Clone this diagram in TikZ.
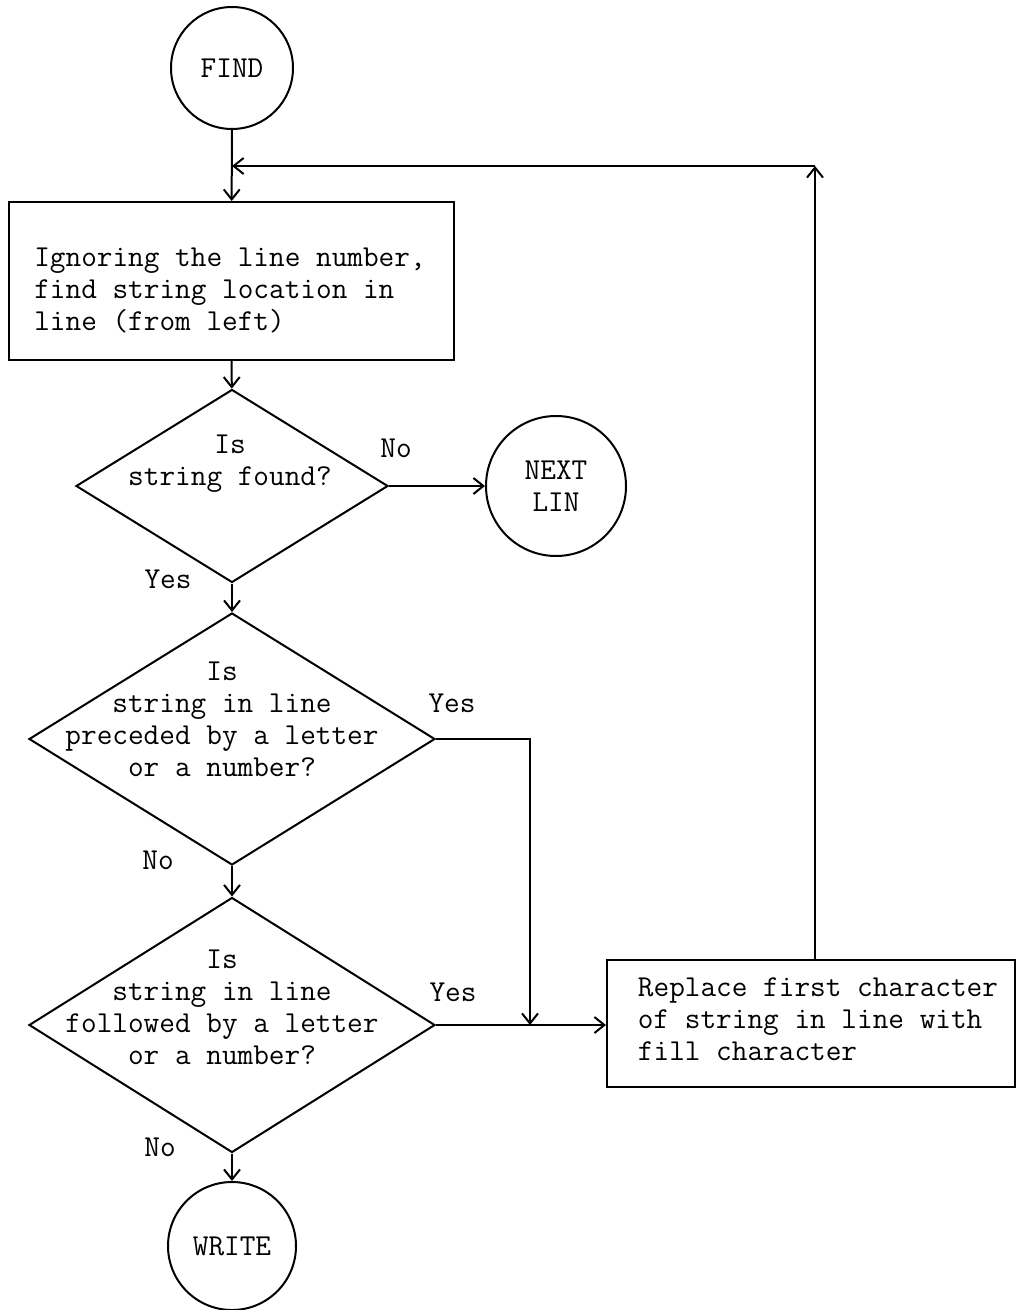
\documentclass[tikz,border=0pt]{standalone}
\usepackage{tikz}
\usetikzlibrary{shapes.geometric,arrows.meta}

\tikzset{
  every node/.style={font=\ttfamily\fontsize{15.2}{16}\selectfont},
  term/.style={draw,circle,inner sep=0pt,align=center},
  proc/.style={draw,rectangle},
  decide/.style={draw,diamond,inner sep=0pt},
  ans/.style={inner sep=0pt}
}

\begin{document}
\begin{tikzpicture}
                        [x=0.5pt,y=-0.5pt,line width=1pt,>={Straight Barb[length=5pt,width=8pt]}]
                        \useasboundingbox (0,0) rectangle (1016,1310);
                        % boxes
                        \node[term,minimum size=61pt] (find) at (232,68) {FIND};
                        \node[proc,minimum width=222.5pt,minimum height=79pt] (ignore) at (231.5,281) {};
                        \node[align=left] (ignoreq) at (230,290) {Ignoring the line number,\\find string location in\\line (from left)};
                        \node[decide,minimum width=156pt,minimum height=96.5pt] (found) at (232,486) {};
                        \node[align=center] (foundq) at (230,464) {Is\\string found?};
                        \node[term,minimum size=70pt] (next) at (556,486) {NEXT\\LIN};
                        \node[decide,minimum width=203pt,minimum height=126pt] (precede) at (232,739) {};
                        \node[align=center] (precedeq) at (222,719) {Is\\string in line\\preceded by a letter\\or a number?};
                        \node[decide,minimum width=203pt,minimum height=127.5pt] (follow) at (232,1025) {};
                        \node[align=center] (followq) at (222,1007) {Is\\string in line\\followed by a letter\\or a number?};
                        \node[term,minimum size=64pt] (write) at (232,1246) {WRITE};
                        \node[proc,minimum width=204pt,minimum height=63.5pt] (replace) at (811,1023.5) {};
                        \node[align=left] (replaceq) at (818,1019) {Replace first character\\of string in line with\\fill character};
                        % answers
                        \node[ans] (no1) at (396,448) {No};
                        \node[ans] (yes1) at (168,579) {Yes};
                        \node[ans] (yes2) at (452,703) {Yes};
                        \node[ans] (no2) at (158,860) {No};
                        \node[ans] (yes3) at (453,992) {Yes};
                        \node[ans] (no3) at (160,1147) {No};
                        % lines
                        \coordinate (join) at (232,166);
                        \coordinate (turn) at (815,166);
                        \coordinate (merge) at (530,1025);
                        \foreach \from/\to in {find/ignore,ignore/found,found/precede,precede/follow,follow/write}
                        \draw[->] (\from) -- (\to);
                        \draw[->] (found.east) -- (next.west);
                        \draw[->] (precede.east) -| (merge);
                        \draw[->] (follow.east) -- (follow.east -| replace.west);
                        \draw[->] (replace.north -| turn) -- (turn);
                        \draw[->] (turn) -- (join);
                    \end{tikzpicture}
\end{document}
